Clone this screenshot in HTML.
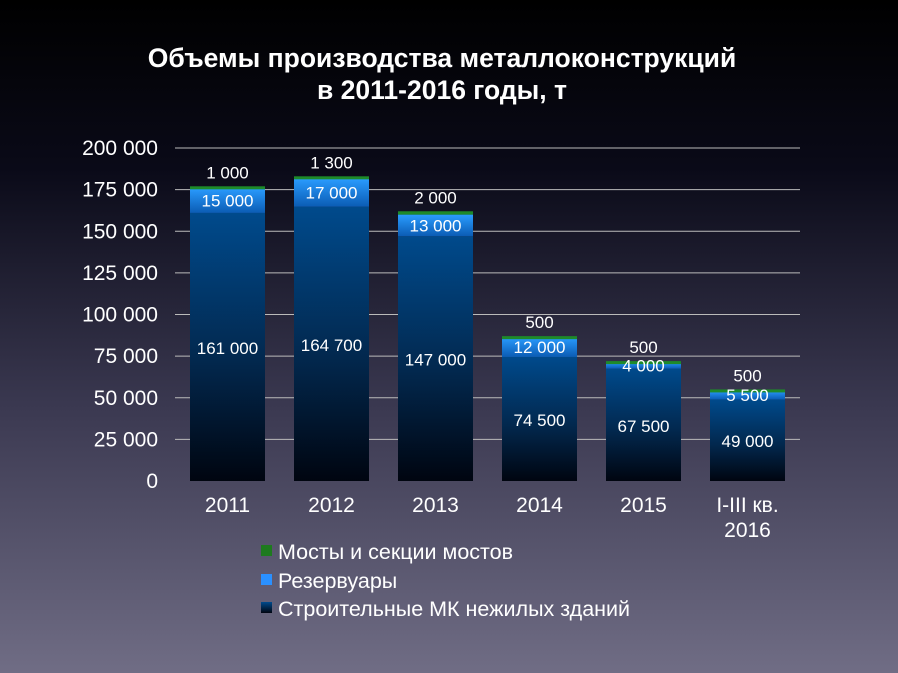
<!DOCTYPE html>
<html><head><meta charset="utf-8"><style>
html,body{margin:0;padding:0;}
body{width:898px;height:673px;overflow:hidden;background:linear-gradient(#000 0%,#0a0a18 25%,#3a3850 60%,#706d85 100%);font-family:"Liberation Sans",sans-serif;}
svg{display:block;}
</style></head><body>
<svg id="chart" width="898" height="673" xmlns="http://www.w3.org/2000/svg" font-family="Liberation Sans, sans-serif">
<defs>
<linearGradient id="gDark" x1="0" y1="0" x2="0" y2="1"><stop offset="0" stop-color="#004a8c"/><stop offset="0.55" stop-color="#02284e"/><stop offset="1" stop-color="#000510"/></linearGradient>
<linearGradient id="gBlue" x1="0" y1="0" x2="0" y2="1"><stop offset="0" stop-color="#2a9cff"/><stop offset="1" stop-color="#0b5cb4"/></linearGradient>
<linearGradient id="gLegDark" x1="0" y1="0" x2="0" y2="1"><stop offset="0" stop-color="#004a8c"/><stop offset="1" stop-color="#000510"/></linearGradient>
</defs>
<text x="442" y="67" fill="#fff" font-size="26.5" font-weight="bold" text-anchor="middle">Объемы производства металлоконструкций</text>
<text x="442" y="99" fill="#fff" font-size="26.5" font-weight="bold" text-anchor="middle">в 2011-2016 годы, т</text>
<g id="grid"></g><g id="bars"></g><g id="labels"></g>
<g>
<rect x="261" y="545" width="11" height="11" fill="#1e7a1e"/><text x="278" y="559" fill="#fff" font-size="21.5">Мосты и секции мостов</text>
<rect x="261" y="574" width="11" height="11" fill="#2a90ff"/><text x="278" y="588" fill="#fff" font-size="21.5">Резервуары</text>
<rect x="261" y="602" width="11" height="11" fill="url(#gLegDark)"/><text x="278" y="616" fill="#fff" font-size="21.5">Строительные МК нежилых зданий</text>
</g>
</svg>
<script>
const categories=["2011","2012","2013","2014","2015","I-III кв.|2016"];
const buildings=[161000,164700,147000,74500,67500,49000];
const reservoirs=[15000,17000,13000,12000,4000,5500];
const bridges=[1000,1300,2000,500,500,500];
const ticks=[0,25000,50000,75000,100000,125000,150000,175000,200000];
const ns="http://www.w3.org/2000/svg";
const y0=481,y1=148,x0=175,x1=800,band=104,bw=75;
const Y=v=>y0-(v/200000)*(y0-y1);
const X=i=>x0+15+i*band;
const fmt=v=>String(v).replace(/\B(?=(\d{3})+(?!\d))/g," ");
function mk(t,a,p){const e=document.createElementNS(ns,t);for(const k in a)e.setAttribute(k,a[k]);p.appendChild(e);return e;}
const grid=document.getElementById('grid'),bars=document.getElementById('bars'),lab=document.getElementById('labels');
ticks.forEach(t=>{
 if(t>0){const l=mk('line',{x1:x0,x2:x1,y1:Y(t),y2:Y(t),stroke:'#bbb','stroke-width':1},grid);
 
 }
 const tx=mk('text',{x:158,y:Y(t)+7,fill:'#fff','font-size':21,'text-anchor':'end'},grid);tx.textContent=fmt(t);
 
 
});
categories.forEach((c,i)=>{
 const x=X(i),b=buildings[i],r=reservoirs[i],g=bridges[i];
 const r1=mk('rect',{x:x,y:Y(b),width:bw,height:Y(0)-Y(b),fill:'url(#gDark)'},bars);
 
 
 const r2=mk('rect',{x:x,y:Y(b+r),width:bw,height:Y(b)-Y(b+r),fill:'url(#gBlue)'},bars);
 
 
 const r3=mk('rect',{x:x,y:Y(b+r+g),width:bw,height:Math.max(3,Y(b+r)-Y(b+r+g)),fill:'#1e8a2a'},bars);
 
 
 const cx=x+bw/2;
 const t1=mk('text',{x:cx,y:(Y(b)+Y(0))/2+7,fill:'#fff','font-size':17,'text-anchor':'middle'},lab);t1.textContent=fmt(b);
 
 
 const t2=mk('text',{x:cx,y:(Y(b)+Y(b+r))/2+6,fill:'#fff','font-size':17,'text-anchor':'middle'},lab);t2.textContent=fmt(r);
 
 
 const t3=mk('text',{x:cx,y:Y(b+r+g)-8,fill:'#fff','font-size':17,'text-anchor':'middle'},lab);t3.textContent=fmt(g);
 
 
 c.split('|').forEach((ln,k)=>{
  const tc=mk('text',{x:cx,y:512+k*25,fill:'#fff','font-size':21,'text-anchor':'middle'},lab);tc.textContent=ln;
  
  
 });
});
</script>
</body></html>
